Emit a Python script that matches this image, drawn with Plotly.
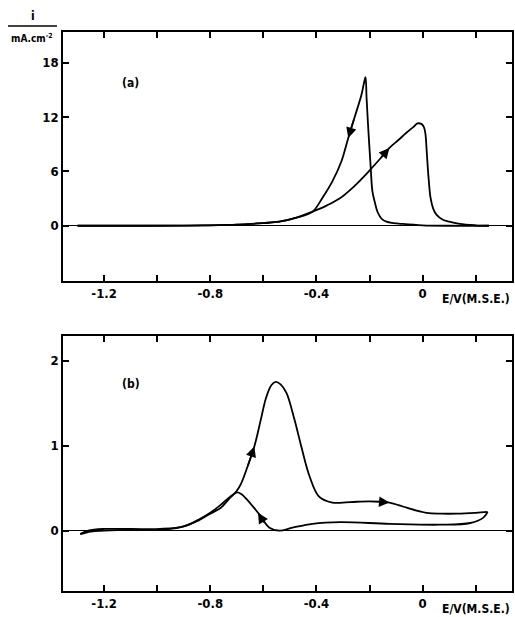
import plotly.graph_objects as go

# ---------------- data: panel (a) ----------------
E_fwd_a = [-1.30, -1.10, -0.90, -0.80, -0.70, -0.65, -0.60, -0.54, -0.475, -0.415, -0.36, -0.313,
           -0.26, -0.20, -0.16, -0.125, -0.09, -0.06, -0.035, -0.019, -0.005, 0.005, 0.011,
           0.015, 0.019, 0.024, 0.030, 0.040, 0.053, 0.075, 0.10, 0.14, 0.20, 0.25]
i_fwd_a = [0.0, 0.0, 0.02, 0.05, 0.12, 0.20, 0.30, 0.45, 0.90, 1.55, 2.25, 3.0,
           4.3, 6.1, 7.4, 8.6, 9.5, 10.3, 10.9, 11.3, 11.25, 10.9, 10.1,
           8.5, 6.7, 4.8, 3.1, 1.9, 1.2, 0.7, 0.45, 0.2, 0.05, 0.0]
E_rev_a = [0.25, 0.10, 0.0, -0.075, -0.11, -0.136, -0.155, -0.17, -0.18, -0.189, -0.196, -0.204,
           -0.211, -0.215, -0.222, -0.23, -0.257, -0.28, -0.306, -0.34, -0.377, -0.415, -0.475,
           -0.54, -0.60, -0.70, -0.90, -1.10, -1.30]
i_rev_a = [0.0, 0.0, 0.05, 0.2, 0.3, 0.45, 0.8, 1.55, 2.6, 3.8, 6.7, 10.4,
           14.1, 16.4, 15.6, 14.5, 11.9, 9.7, 7.1, 4.9, 3.1, 1.55, 0.9,
           0.45, 0.3, 0.12, 0.02, 0.0, 0.0]
# arrows (head, tail) on panel (a)
arr_a_x = [-0.125, -0.28]
arr_a_y = [8.6, 9.7]
arr_a_tx = [-0.16, -0.257]
arr_a_ty = [7.4, 11.9]

# ---------------- data: panel (b) ----------------
E_fwd_b = [-1.29, -1.25, -1.20, -1.10, -1.00, -0.95, -0.90, -0.85, -0.80, -0.76, -0.73, -0.70,
           -0.683, -0.66, -0.634, -0.61, -0.59, -0.57, -0.553, -0.535, -0.513, -0.483, -0.457,
           -0.426, -0.39, -0.34, -0.30, -0.25, -0.20, -0.162, -0.125, -0.09, -0.06, 0.015,
           0.07, 0.13, 0.20, 0.245]
i_fwd_b = [-0.04, -0.01, 0.0, 0.01, 0.01, 0.02, 0.05, 0.11, 0.20, 0.27, 0.37, 0.47,
           0.56, 0.75, 0.99, 1.30, 1.56, 1.71, 1.75, 1.72, 1.62, 1.31, 0.99,
           0.64, 0.40, 0.33, 0.33, 0.34, 0.345, 0.34, 0.33, 0.30, 0.27, 0.21,
           0.20, 0.20, 0.21, 0.22]
E_rev_b = [0.245, 0.228, 0.18, 0.066, -0.125, -0.31, -0.415, -0.49, -0.54, -0.577, -0.62, -0.66,
           -0.683, -0.698, -0.72, -0.762, -0.80, -0.838, -0.90, -0.99, -1.10, -1.20, -1.26, -1.29]
i_rev_b = [0.22, 0.15, 0.09, 0.07, 0.08, 0.10, 0.08, 0.035, 0.0, 0.035, 0.21, 0.36,
           0.43, 0.45, 0.41, 0.30, 0.21, 0.14, 0.05, 0.02, 0.02, 0.02, 0.0, -0.04]
arr_b_x = [-0.634, -0.125, -0.62]
arr_b_y = [0.99, 0.33, 0.21]
arr_b_tx = [-0.66, -0.162, -0.595]
arr_b_ty = [0.75, 0.34, 0.08]

# ticks
x_tickvals = [-1.2, -1.0, -0.8, -0.6, -0.4, -0.2, 0.0, 0.2]
x_ticklabels = ["-1.2", "", "-0.8", "", "-0.4", "", "0", ""]
ya_tickvals = [0, 6, 12, 18]
yb_tickvals = [0, 1, 2]

W, H = 515, 617
FONT = "DejaVu Sans Condensed, DejaVu Sans, Liberation Sans, sans-serif"


def bold(labels):
    return ["<b>%s</b>" % t if t != "" else "" for t in labels]


fig = go.Figure()
line = dict(color="black", width=1.8)
fig.add_trace(go.Scatter(x=E_fwd_a, y=i_fwd_a, mode="lines", line=line, xaxis="x", yaxis="y", line_shape="spline"))
fig.add_trace(go.Scatter(x=E_rev_a, y=i_rev_a, mode="lines", line=line, xaxis="x", yaxis="y", line_shape="spline"))
fig.add_trace(go.Scatter(x=E_fwd_b, y=i_fwd_b, mode="lines", line=line, xaxis="x2", yaxis="y2", line_shape="spline"))
fig.add_trace(go.Scatter(x=E_rev_b, y=i_rev_b, mode="lines", line=line, xaxis="x2", yaxis="y2", line_shape="spline"))

ann = []
for hx, hy, tx, ty in zip(arr_a_x, arr_a_y, arr_a_tx, arr_a_ty):
    ann.append(dict(x=hx, y=hy, ax=tx, ay=ty, xref="x", yref="y", axref="x", ayref="y",
                    text="", showarrow=True, arrowhead=2, arrowsize=1.3, arrowwidth=1.6,
                    arrowcolor="black", standoff=0))
for hx, hy, tx, ty in zip(arr_b_x, arr_b_y, arr_b_tx, arr_b_ty):
    ann.append(dict(x=hx, y=hy, ax=tx, ay=ty, xref="x2", yref="y2", axref="x2", ayref="y2",
                    text="", showarrow=True, arrowhead=2, arrowsize=1.3, arrowwidth=1.6,
                    arrowcolor="black", standoff=0))

tf = dict(family=FONT, size=13, color="black")
lf = dict(family=FONT, size=12, color="black")
ann += [
    dict(x=-1.10, y=15.8, xref="x", yref="y", text="<b>(a)</b>", showarrow=False, font=lf),
    dict(x=-1.10, y=1.72, xref="x2", yref="y2", text="<b>(b)</b>", showarrow=False, font=lf),
    dict(x=512 / W, y=1 - 299 / H, xref="paper", yref="paper", text="<b>E/V(M.S.E.)</b>", showarrow=False,
         xanchor="right", yanchor="middle", font=lf),
    dict(x=512 / W, y=1 - 609 / H, xref="paper", yref="paper", text="<b>E/V(M.S.E.)</b>", showarrow=False,
         xanchor="right", yanchor="middle", font=lf),
    dict(x=33 / W, y=1 - 16 / H, xref="paper", yref="paper", text="<b>i</b>", showarrow=False,
         xanchor="center", yanchor="middle", font=lf),
    dict(x=32 / W, y=1 - 38 / H, xref="paper", yref="paper", text="<b>mA.cm<sup>-2</sup></b>", showarrow=False,
         xanchor="center", yanchor="middle", font=dict(family=FONT, size=10, color="black")),
]

shapes = [dict(type="line", xref="paper", yref="paper", x0=8 / W, x1=57 / W,
               y0=1 - 26 / H, y1=1 - 26 / H, line=dict(color="black", width=1.5))]

xdom = [63 / W, 512 / W]
common_x = dict(range=[-1.355, 0.337], tickmode="array", tickvals=x_tickvals, ticktext=bold(x_ticklabels),
                ticks="inside", ticklen=6, tickwidth=1.5, tickcolor="black", mirror="ticks",
                showline=True, linecolor="black", linewidth=1.5, showgrid=False, zeroline=False,
                tickfont=tf, domain=xdom)
common_y = dict(ticks="inside", ticklen=6, tickwidth=1.5, tickcolor="black", mirror="ticks",
                showline=True, linecolor="black", linewidth=1.5, showgrid=False,
                zeroline=True, zerolinecolor="black", zerolinewidth=1, tickfont=tf, tickmode="array")

fig.update_layout(
    width=W, height=H, margin=dict(l=0, r=0, t=0, b=0),
    paper_bgcolor="white", plot_bgcolor="white", showlegend=False,
    xaxis=dict(common_x, anchor="y"),
    yaxis=dict(common_y, range=[-6.1, 21.4], tickvals=ya_tickvals,
               ticktext=bold([str(v) for v in ya_tickvals]), anchor="x",
               domain=[1 - 281 / H, 1 - 32 / H]),
    xaxis2=dict(common_x, anchor="y2"),
    yaxis2=dict(common_y, range=[-0.71, 2.29], tickvals=yb_tickvals,
                ticktext=bold([str(v) for v in yb_tickvals]), anchor="x2",
                domain=[1 - 591 / H, 1 - 336 / H]),
    annotations=ann, shapes=shapes,
)

fig.write_html("out.html", config={"displayModeBar": False},
               post_script="document.body.style.margin='0';document.body.style.overflow='hidden';")
